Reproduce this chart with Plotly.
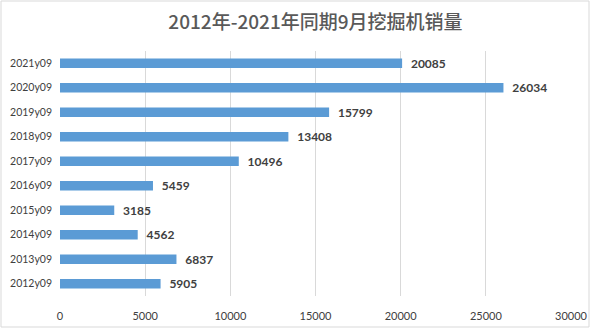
import plotly.graph_objects as go

categories = ["2012y09", "2013y09", "2014y09", "2015y09", "2016y09",
              "2017y09", "2018y09", "2019y09", "2020y09", "2021y09"]
values = [5905, 6837, 4562, 3185, 5459, 10496, 13408, 15799, 26034, 20085]
x_ticks = [0, 5000, 10000, 15000, 20000, 25000, 30000]

W, H = 591, 329
ml, mr, mt, mb = 60, 20, 51, 33
pw, ph = W - ml - mr, H - mt - mb

fig = go.Figure(go.Bar(
    y=categories, x=values, orientation="h",
    marker=dict(color="#5b9bd5", line=dict(width=0)),
    text=["  " + str(v) for v in values], textposition="outside",
    constraintext="none",
    textfont=dict(family="Lato, Open Sans, sans-serif", size=12, color="#404040", weight="bold"),
    cliponaxis=False,
))

def px_x(p):
    return (p - ml) / pw

def px_y(p):
    return 1 - (p - mt) / ph

fig.add_shape(type="rect", xref="paper", yref="paper",
              x0=px_x(1), x1=px_x(589), y0=px_y(327), y1=px_y(1),
              line=dict(color="#d9d9d9", width=1), fillcolor="rgba(0,0,0,0)", layer="below")

fig.update_layout(
    width=W, height=H,
    margin=dict(l=ml, r=mr, t=mt, b=mb),
    paper_bgcolor="white", plot_bgcolor="white",
    bargap=0.62,
    showlegend=False,
    title=dict(text="2012年-2021年同期9月挖掘机销量", x=0.5, xref="paper", xanchor="center",
               y=1 - 22 / H, yanchor="middle",
               font=dict(family="Noto Sans CJK SC, sans-serif", size=19, color="#595959", weight=500)),
    xaxis=dict(range=[0, 30000], tickvals=x_ticks, ticktext=[str(t) for t in x_ticks],
               showgrid=True, gridcolor="#d9d9d9", gridwidth=1, zeroline=False,
               showline=False, ticks="", ticklen=0, ticklabelstandoff=12, automargin=False,
               tickfont=dict(family="Lato, Open Sans, sans-serif", size=11, color="#404040")),
    yaxis=dict(showgrid=False, zeroline=False, showline=False, ticks="",
               ticklabelstandoff=7, automargin=False,
               tickfont=dict(family="Lato, Open Sans, sans-serif", size=10.5, color="#404040"),
               range=[-0.5, 9.5]),
)

fig.write_html("out.html")
